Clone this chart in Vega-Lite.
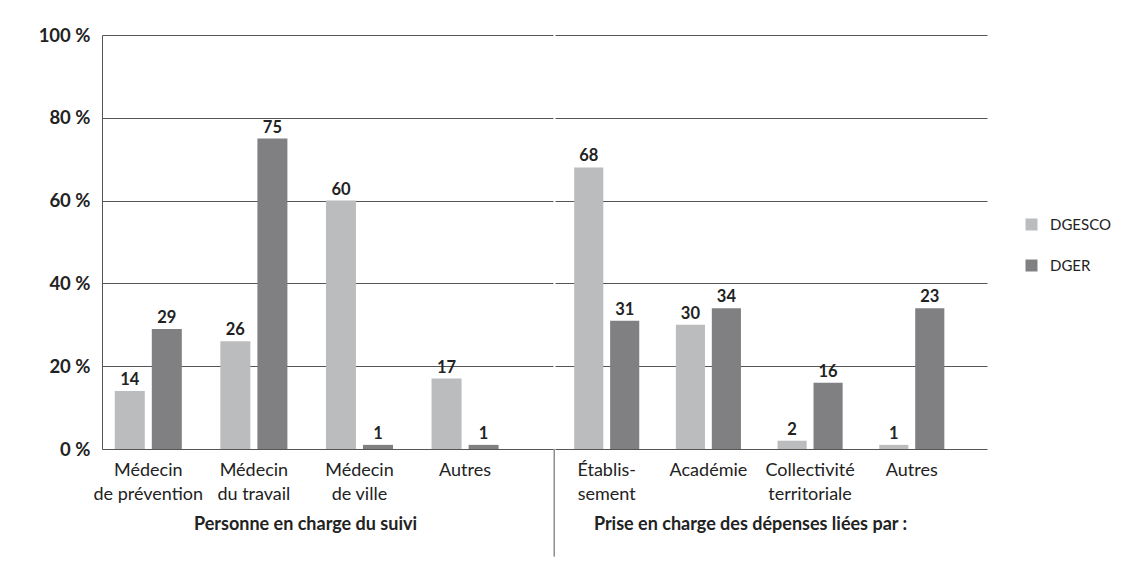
{
  "$schema": "https://vega.github.io/schema/vega-lite/v6.json",
  "padding": {"left": 38, "top": 26, "right": 5, "bottom": 5},
  "background": "white",
  "config": {
    "font": "Lato",
    "view": {"stroke": null, "strokeWidth": 0},
    "concat": {"spacing": 0},
    "axisX": {"domain": false, "grid": false}
  },
  "spacing": 0,
  "resolve": {"scale": {"x": "independent", "xOffset": "independent", "y": "shared", "color": "shared"}},
  "hconcat": [
    {
      "width": 451,
      "height": 414,
      "view": {"stroke": null},
      "data": {"values": [
        {"cat": "Médecin|de prévention", "serie": "DGESCO", "value": 14, "label": "14"},
        {"cat": "Médecin|de prévention", "serie": "DGER", "value": 29, "label": "29"},
        {"cat": "Médecin|du travail", "serie": "DGESCO", "value": 26, "label": "26"},
        {"cat": "Médecin|du travail", "serie": "DGER", "value": 75, "label": "75"},
        {"cat": "Médecin|de ville", "serie": "DGESCO", "value": 60, "label": "60"},
        {"cat": "Médecin|de ville", "serie": "DGER", "value": 1, "label": "1"},
        {"cat": "Autres", "serie": "DGESCO", "value": 17, "label": "17"},
        {"cat": "Autres", "serie": "DGER", "value": 1, "label": "1"}
      ]},
      "encoding": {
        "x": {"field": "cat", "type": "nominal", "sort": null,
          "scale": {"paddingInner": 0.365, "paddingOuter": 0.318, "align": 0.19},
          "axis": {"title": "Personne en charge du suivi", "titleX": 203, "titlePadding": 12, "titleFontSize": 18, "titleFontWeight": "bold", "titleColor": "#222",
            "labelExpr": "split(datum.label, '|')", "labelAngle": 0, "labelFontSize": 18, "labelLineHeight": 24, "labelColor": "#222", "labelPadding": 12,
            "domain": false, "ticks": false, "grid": false}},
        "xOffset": {"field": "serie", "type": "nominal", "sort": ["DGESCO", "DGER"], "scale": {"paddingInner": 0.19}},
        "y": {"field": "value", "type": "quantitative", "scale": {"domain": [0, 100]},
          "axis": {"title": null, "values": [0, 20, 40, 60, 80, 100], "labelExpr": "datum.value + ' %'", "labelFontSize": 18.5, "labelFontWeight": "bold", "labelColor": "#222", "labelPadding": 12,
            "ticks": false, "domain": true, "domainColor": "#555", "grid": true, "gridColor": "#555", "gridOpacity": 1}}
      },
      "layer": [
        {"mark": {"type": "bar"}, "encoding": {"color": {"field": "serie", "type": "nominal", "scale": {"domain": ["DGESCO", "DGER"], "range": ["#bbbcbe", "#808083"]},
          "legend": {"title": null, "orient": "none", "legendX": 922, "legendY": 182, "symbolType": "square", "symbolSize": 144, "symbolStrokeWidth": 0, "labelFontSize": 15, "labelColor": "#222", "rowPadding": 25, "labelOffset": 11}}}},
        {"mark": {"type": "text", "baseline": "bottom", "dy": -3, "fontSize": 16.5, "fontWeight": "bold", "color": "#222"}, "encoding": {"text": {"field": "label"}}}
      ]
    },
    {
      "width": 432,
      "height": 414,
      "view": {"stroke": null},
      "layer": [
        {
          "data": {"values": [
            {"cat": "Établis-|sement", "serie": "DGESCO", "value": 68, "label": "68"},
            {"cat": "Établis-|sement", "serie": "DGER", "value": 31, "label": "31"},
            {"cat": "Académie", "serie": "DGESCO", "value": 30, "label": "30"},
            {"cat": "Académie", "serie": "DGER", "value": 34, "label": "34"},
            {"cat": "Collectivité|territoriale", "serie": "DGESCO", "value": 2, "label": "2"},
            {"cat": "Collectivité|territoriale", "serie": "DGER", "value": 16, "label": "16"},
            {"cat": "Autres", "serie": "DGESCO", "value": 1, "label": "1"},
            {"cat": "Autres", "serie": "DGER", "value": 34, "label": "23"}
          ]},
          "encoding": {
            "x": {"field": "cat", "type": "nominal", "sort": null,
              "scale": {"paddingInner": 0.36, "paddingOuter": 0.304, "align": 0.31},
              "axis": {"title": "Prise en charge des dépenses liées par :", "titleX": 195, "titlePadding": 12, "titleFontSize": 18, "titleFontWeight": "bold", "titleColor": "#222",
                "labelExpr": "split(datum.label, '|')", "labelAngle": 0, "labelFontSize": 18, "labelLineHeight": 24, "labelColor": "#222", "labelPadding": 12,
                "domain": false, "grid": false, "ticks": false}},
            "xOffset": {"field": "serie", "type": "nominal", "sort": ["DGESCO", "DGER"], "scale": {"paddingInner": 0.19}},
            "y": {"field": "value", "type": "quantitative", "scale": {"domain": [0, 100]},
              "axis": {"title": null, "values": [0, 20, 40, 60, 80, 100], "labels": false, "ticks": false, "domain": false, "grid": true, "gridColor": "#555", "gridOpacity": 1}}
          },
          "layer": [
            {"mark": {"type": "bar"}, "encoding": {"color": {"field": "serie", "type": "nominal"}}},
            {"mark": {"type": "text", "baseline": "bottom", "dy": -3, "fontSize": 16.5, "fontWeight": "bold", "color": "#222"}, "encoding": {"text": {"field": "label"}}}
          ]
        },
        {
          "data": {"values": [{"divider": "section"}]},
          "mark": {"type": "rule", "clip": false, "color": "#555", "strokeWidth": 1, "xOffset": -20},
          "encoding": {
            "x": {"datum": "Établis-|sement", "type": "nominal", "bandPosition": 0},
            "y": {"datum": -26, "type": "quantitative"},
            "y2": {"datum": 0.01}
          }
        }
      ]
    }
  ]
}
